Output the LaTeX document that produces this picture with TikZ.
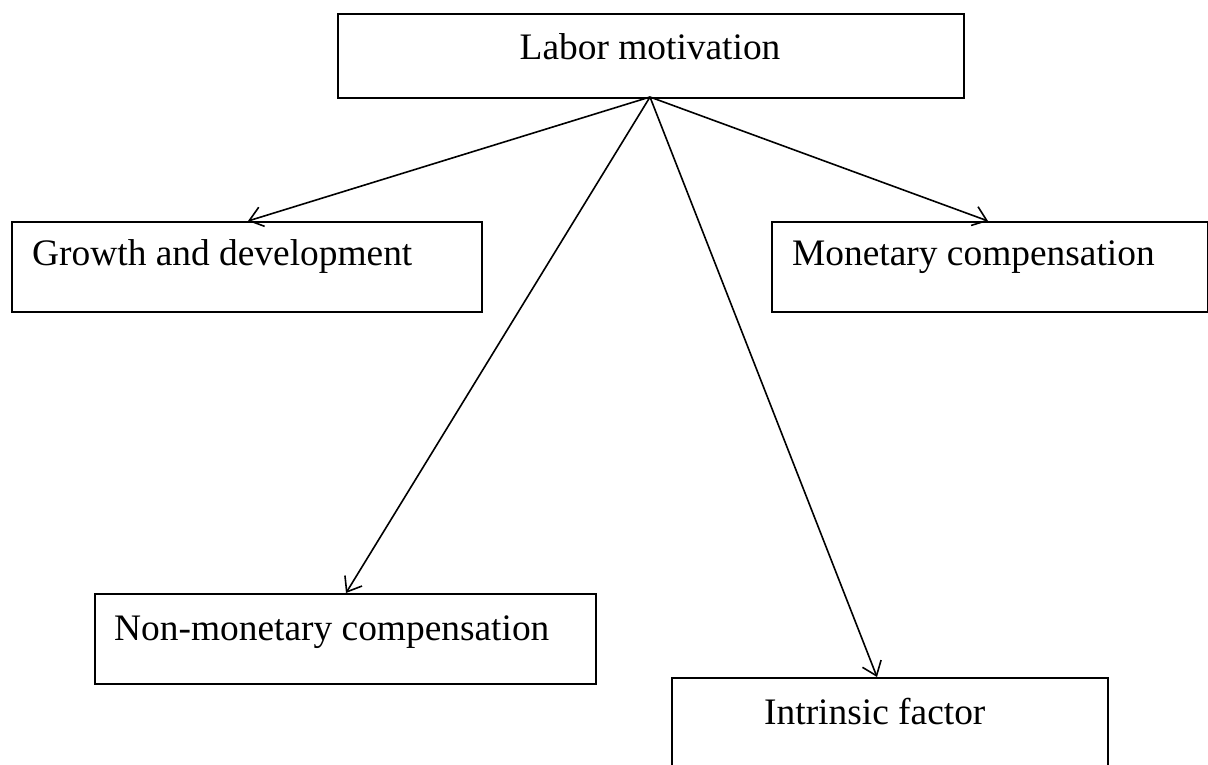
\documentclass[tikz,border=0pt]{standalone}
\usepackage{fontspec}
\setmainfont{Liberation Serif}
\usetikzlibrary{arrows.meta,calc}
\begin{document}
\begin{tikzpicture}[x=1pt,y=-1pt,
  box/.style={draw=black,line width=1.6pt,rectangle,inner sep=0pt,anchor=north west},
  caption/.style={inner sep=0pt,anchor=base west,font=\fontsize{37.4}{44}\selectfont},
  link/.style={draw=black,line width=1.6pt,-{Straight Barb[length=13pt,width=20pt,line width=1.6pt]}}]
  \useasboundingbox (0,0) rectangle (1208,764);
  \clip (0,0) rectangle (1208,764);
  % boxes
  \node[box,minimum width=626pt,minimum height=84pt] (top) at (337,13) {};
  \node[box,minimum width=470pt,minimum height=90pt] (grow) at (11,221) {};
  \node[box,minimum width=436pt,minimum height=90pt] (money) at (771,221) {};
  \node[box,minimum width=501pt,minimum height=90pt] (nonmoney) at (94,593) {};
  \node[box,minimum width=436pt,minimum height=120pt] (intr) at (671,677) {};
  % captions
  \node[caption,anchor=base] (ttop) at (650,59) {Labor motivation};
  \node[caption] (tgrow) at (32,265) {Growth and development};
  \node[caption] (tmoney) at (792,265) {Monetary compensation};
  \node[caption] (tnonmoney) at (114,640) {Non-monetary compensation};
  \node[caption] (tintr) at (764,724) {Intrinsic factor};
  % connectors from the hub point on the bottom edge of the top box
  \coordinate (hub) at (650,97);
  \draw[link] (hub) -- (grow.north west -| 248,0);
  \draw[link] (hub) -- (money.north west -| 988,0);
  \draw[link] (hub) -- (nonmoney.north west -| 346,0);
  \draw[link] (hub) -- (intr.north west -| 877,0);
\end{tikzpicture}
\end{document}
